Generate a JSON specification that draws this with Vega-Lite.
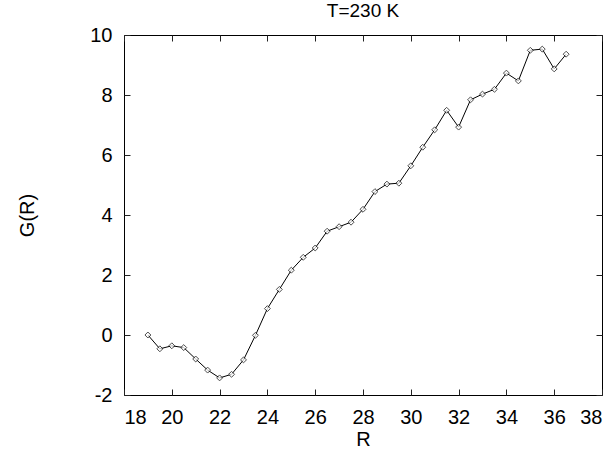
{
  "$schema": "https://vega.github.io/schema/vega-lite/v6.json",
  "width": 478,
  "height": 360,
  "autosize": {"type": "none"},
  "padding": {"left": 124, "top": 35, "right": 12, "bottom": 56},
  "background": "white",
  "title": {"text": "T=230 K", "font": "Liberation Sans", "fontSize": 19, "fontWeight": "normal", "color": "black", "offset": 4, "anchor": "middle", "frame": "group"},
  "data": {"values": [
    {"R": 19.0, "G": 0.0}, {"R": 19.5, "G": -0.46}, {"R": 20.0, "G": -0.36}, {"R": 20.5, "G": -0.42},
    {"R": 21.0, "G": -0.8}, {"R": 21.5, "G": -1.17}, {"R": 22.0, "G": -1.43}, {"R": 22.5, "G": -1.31},
    {"R": 23.0, "G": -0.83}, {"R": 23.5, "G": -0.01}, {"R": 24.0, "G": 0.88}, {"R": 24.5, "G": 1.52},
    {"R": 25.0, "G": 2.16}, {"R": 25.5, "G": 2.59}, {"R": 26.0, "G": 2.9}, {"R": 26.5, "G": 3.46},
    {"R": 27.0, "G": 3.61}, {"R": 27.5, "G": 3.76}, {"R": 28.0, "G": 4.19}, {"R": 28.5, "G": 4.78},
    {"R": 29.0, "G": 5.03}, {"R": 29.5, "G": 5.06}, {"R": 30.0, "G": 5.64}, {"R": 30.5, "G": 6.26},
    {"R": 31.0, "G": 6.84}, {"R": 31.5, "G": 7.49}, {"R": 32.0, "G": 6.93}, {"R": 32.5, "G": 7.84},
    {"R": 33.0, "G": 8.03}, {"R": 33.5, "G": 8.19}, {"R": 34.0, "G": 8.73}, {"R": 34.5, "G": 8.47},
    {"R": 35.0, "G": 9.49}, {"R": 35.5, "G": 9.53}, {"R": 36.0, "G": 8.87}, {"R": 36.5, "G": 9.36}
  ]},
  "layer": [
    {
      "mark": {"type": "line", "color": "black", "strokeWidth": 1},
      "encoding": {
        "x": {"field": "R", "type": "quantitative", "scale": {"domain": [18, 38], "nice": false, "zero": false},
              "axis": {"orient": "bottom", "values": [18,20,22,24,26,28,30,32,34,36,38], "tickSize": -6, "tickWidth": 1, "tickColor": "#222222", "labelPadding": 18, "labelExpr": "'' + datum.value", "title": "R", "titlePadding": 2}},
        "y": {"field": "G", "type": "quantitative", "scale": {"domain": [-2, 10], "nice": false, "zero": false},
              "axis": {"orient": "left", "values": [-2,0,2,4,6,8,10], "tickSize": -6, "tickWidth": 1, "tickColor": "#222222", "labelPadding": 18, "labelExpr": "'' + datum.value", "title": "G(R)", "titlePadding": 52}}
      }
    },
    {
      "mark": {"type": "point", "shape": "diamond", "size": 35, "filled": false, "color": "black", "fill": "white", "strokeWidth": 1},
      "encoding": {
        "x": {"field": "R", "type": "quantitative", "scale": {"domain": [18, 38], "nice": false, "zero": false},
              "axis": {"orient": "top", "values": [18,20,22,24,26,28,30,32,34,36,38], "ticks": true, "tickSize": -6, "tickWidth": 1, "tickColor": "#222222", "labels": false, "title": null}},
        "y": {"field": "G", "type": "quantitative", "scale": {"domain": [-2, 10], "nice": false, "zero": false},
              "axis": {"orient": "right", "values": [-2,0,2,4,6,8,10], "ticks": true, "tickSize": -6, "tickWidth": 1, "tickColor": "#222222", "labels": false, "title": null}}
      }
    }
  ],
  "resolve": {"axis": {"x": "independent", "y": "independent"}},
  "config": {
    "view": {"stroke": "black", "strokeWidth": 1},
    "axis": {
      "grid": false,
      "domain": false,
      "labelFont": "Liberation Sans",
      "labelFontSize": 20,
      "labelColor": "black",
      "titleFont": "Liberation Sans",
      "titleFontSize": 20,
      "titleFontWeight": "normal",
      "titleColor": "black"
    }
  }
}
